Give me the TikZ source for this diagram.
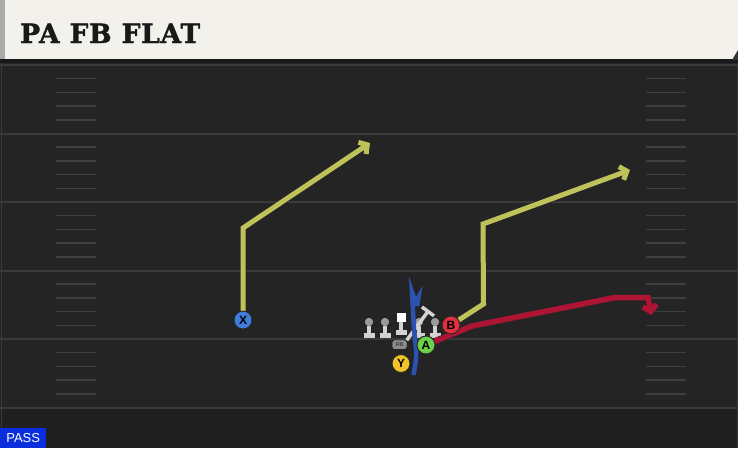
\documentclass[tikz,border=0pt]{standalone}
\usepackage{fontspec}
\setmainfont{DejaVu Serif}
\setsansfont{Liberation Sans}
\newfontfamily\titlefont{DejaVu Serif}[BoldFont = DejaVu Serif Bold, BoldFeatures = {FakeBold = 1.5}, LetterSpace = 3]
\usetikzlibrary{arrows.meta}

\definecolor{header}{HTML}{F3F1EB}
\definecolor{headstrip}{HTML}{A9ABA8}
\definecolor{field}{HTML}{242424}
\definecolor{fieldlow}{HTML}{1F1F1F}
\definecolor{yardline}{HTML}{3A3A3A}
\definecolor{hashmark}{HTML}{3F3F3F}
\definecolor{routeyellow}{HTML}{BFC15A}
\definecolor{routered}{HTML}{AE1535}
\definecolor{routeblue}{HTML}{2C52B0}
\definecolor{passblue}{HTML}{0A2EDD}
\definecolor{xblue}{HTML}{3F7FDC}
\definecolor{bred}{HTML}{E0303F}
\definecolor{agreen}{HTML}{6CD04A}
\definecolor{yyellow}{HTML}{F0C428}
\definecolor{olgray}{HTML}{D2D2D2}
\definecolor{olhead}{HTML}{9A9A9A}

\tikzset{
  player/.style = {circle, draw = black!85, line width = .9pt, minimum size = 18pt,
    inner sep = 0pt, font = \sffamily\bfseries\fontsize{12}{12}\selectfont},
  route/.style = {line width = 5pt, line join = miter,
    preaction = {draw = black!85, line width = 6.5pt}},
  routetip/.style = {-{Straight Barb[length = 6pt, width = 14pt]}},
  olhead/.style = {circle, fill = olhead, minimum size = 8pt, inner sep = 0pt},
  olbody/.style = {draw = olgray, line width = 4.5pt},
  rbtag/.style = {fill = black!45, rounded corners = 2.5pt, minimum width = 14pt, minimum height = 8.5pt,
    inner sep = 0pt, font = \sffamily\bfseries\fontsize{5.5}{5.5}\selectfont, text = black!75},
}

\begin{document}
\begin{tikzpicture}[x = 1pt, y = -1pt]
\useasboundingbox (0,0) rectangle (738,448);
% field and header
\fill[field] (0,59) rectangle (738,448);
\fill[fieldlow] (0,408) rectangle (738,448);
\fill[black!90] (0,59) rectangle (738,63);
\fill[header] (0,0) rectangle (738,59);
\fill[headstrip] (0,0) rectangle (5,59);
\fill[black!80] (738,50) -- (738,60) -- (732,60) -- cycle;
\draw[yardline, line width = 1pt] (1,63) -- (1,448);
\draw[yardline, line width = 1pt] (737,63) -- (737,448);
\node[anchor = base west, inner sep = 0pt, text = black!90, font = \titlefont\bfseries\fontsize{26.5}{26.5}\selectfont] (title) at (20,43) {PA FB FLAT};
% yard lines
\draw[yardline, line width = 2pt] (0,64.5) -- (738,64.5);
\draw[yardline, line width = 2pt] (0,133.5) -- (738,133.5);
\draw[yardline, line width = 2pt] (0,202) -- (738,202);
\draw[yardline, line width = 2pt] (0,270.5) -- (738,270.5);
\draw[yardline, line width = 2pt] (0,339) -- (738,339);
\draw[yardline, line width = 2pt] (0,407.5) -- (738,407.5);
% hash marks
\foreach \y in {65,133.5,202,270.5,339}
  \foreach \d in {13.7,27.4,41.1,54.8} {
    \draw[hashmark, line width = 1.5pt] (56,\y+\d) -- (96,\y+\d);
    \draw[hashmark, line width = 1.5pt] (646,\y+\d) -- (686,\y+\d);
  }
% offensive line
\node[olhead] (lt) at (369,322) {};
\node[olhead] (lg) at (385,322) {};
\node[olhead] (rg) at (419,322) {};
\node[olhead] (rt) at (435,322) {};
\node[fill = white, minimum size = 9pt, inner sep = 0pt] (ctr) at (401,317) {};
\draw[olbody] (lt.south) -- ++(0,9.5) ++(-5.5,0) -- ++(11,0);
\draw[olbody] (lg.south) -- ++(0,9.5) ++(-5.5,0) -- ++(11,0);
\draw[olbody] (rg.south) -- ++(0,9.5) ++(-5.5,0) -- ++(11,0);
\draw[olbody] (rt.south) -- ++(0,9.5) ++(-5.5,0) -- ++(11,0);
\draw[olbody] (ctr.south) -- ++(0,11) ++(-5.5,0) -- ++(11,0);
\node[olhead] at (lt) {};
\node[olhead] at (lg) {};
\node[olhead] at (rg) {};
\node[olhead] at (rt) {};
% backs and receivers
\node[rbtag] (rb) at (399.5,344.7) {RB};
\coordinate (rbblk) at (429,310);
\draw[olbody, line width = 3.5pt, -{Bar[width = 15pt]}] (rb.north east) -- (rbblk);
\node[rbtag] at (rb) {RB};
\coordinate (xbreak) at (243,228);
\coordinate (xend) at (370,143);
\coordinate (bstem) at (483.5,304);
\coordinate (bbreak) at (483,224);
\coordinate (bend) at (630,170);
\coordinate (aflat) at (472,326);
\coordinate (aturn) at (615,297.5);
\coordinate (acorner) at (648,297.5);
\coordinate (aend) at (651.5,315);
\node[player, fill = xblue] (X) at (243,320) {X};
\node[player, fill = bred] (B) at (451,325) {B};
\node[player, fill = agreen] (A) at (426,345) {A};
\node[player, fill = yyellow] (Y) at (401,363.5) {Y};
% routes
\draw[route, routeyellow, routetip] (X.center) -- (xbreak) -- (xend);
\draw[route, routeyellow, routetip] (B.center) -- (bstem) -- (bbreak) -- (bend);
\draw[route, routered, line width = 5.5pt, routetip] (A.center) -- (aflat) -- (aturn) -- (acorner) -- (aend);
\draw[routeblue, line width = 4.5pt, line join = miter] (413.5,375) .. controls (417,355) .. (414,330)
  -- (412,292) -- (415.5,302) -- (418.5,297) -- (417,306);
\node[player, fill = xblue] at (X) {X};
\node[player, fill = bred] at (B) {B};
\node[player, fill = agreen] at (A) {A};
\node[player, fill = yyellow] at (Y) {Y};
% play type
\node[fill = passblue, text = white, font = \sffamily\fontsize{13}{13}\selectfont,
  anchor = south west, minimum width = 46pt, minimum height = 20pt, inner sep = 0pt] (play) at (0,448) {PASS};
\end{tikzpicture}
\end{document}
